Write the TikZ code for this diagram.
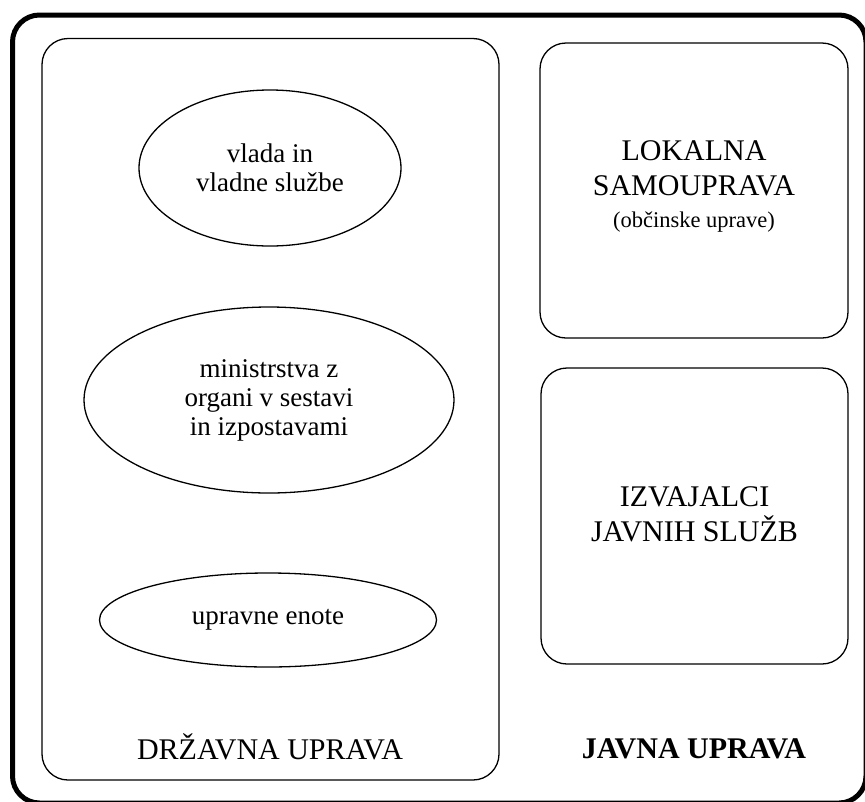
\documentclass[tikz,border=0pt]{standalone}
\usepackage{fontspec}
\setmainfont{Liberation Serif}
\usetikzlibrary{shapes.geometric}
\begin{document}
\begin{tikzpicture}[x=1pt, y=-1pt,
  box/.style={draw=black, line width=1.3pt, rounded corners=26pt},
  oval/.style={draw=black, line width=1.3pt, ellipse, inner sep=0pt, align=center, font=\fontsize{27}{29}\selectfont},
  caps/.style={align=center, font=\fontsize{30}{35}\selectfont}]
\useasboundingbox (0,0) rectangle (865,801);
% outer frame
\node[draw=black, line width=5pt, rounded corners=27pt, minimum width=853.5pt, minimum height=788pt] (frame) at (439.25,409) {};
% left box
\node[box, minimum width=457pt, minimum height=741.5pt] (drzavna) at (270.5,409.25) {};
\node[oval, minimum width=262pt, minimum height=156pt] (vlada) at (270,168) {vlada in\\vladne službe};
\node[oval, minimum width=370pt, minimum height=186pt] (ministrstva) at (269,400) {ministrstva z\\organi v sestavi\\in izpostavami};
\node[oval, minimum width=337pt, minimum height=94pt] (enote) at (268,620) {upravne enote};
\node[caps] (drzavnatxt) at (270,747) {DRŽAVNA UPRAVA};
% right boxes
\node[box, minimum width=308pt, minimum height=295pt] (lokalna) at (694,190.5) {};
\node[caps] (lokalnatxt) at (694,186) {LOKALNA\\SAMOUPRAVA\\[-3pt]{\fontsize{22.5}{27}\selectfont(občinske uprave)}};
\node[box, minimum width=307pt, minimum height=296pt] (izvajalci) at (694.5,516) {};
\node[caps] (izvajalcitxt) at (694.5,514.5) {IZVAJALCI\\JAVNIH SLUŽB};
\node[caps, font=\fontsize{30}{35}\selectfont\bfseries] (javna) at (694,749) {JAVNA UPRAVA};
\end{tikzpicture}
\end{document}
